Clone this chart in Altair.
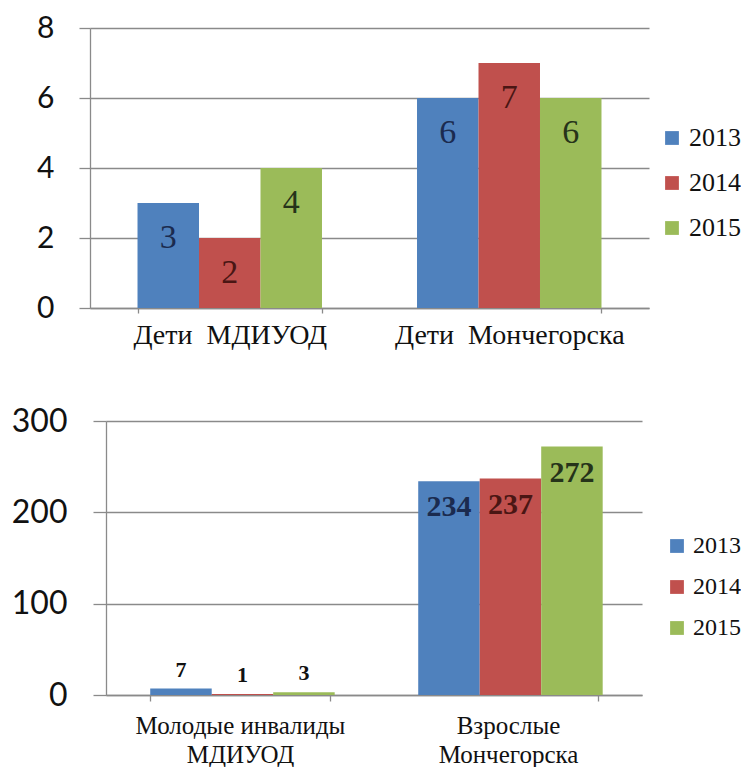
import altair as alt
import pandas as pd

years = ["2013", "2014", "2015"]
bar_colors = ["#4F81BD", "#C0504D", "#9BBB59"]
label_colors = ["#1B2B4F", "#4A1614", "#26331A"]

top_categories = ["Дети\u00a0 МДИУОД", "Дети\u00a0 Мончегорска"]
top_2013 = [3, 6]
top_2014 = [2, 7]
top_2015 = [4, 6]
top_ticks = [0, 2, 4, 6, 8]

bottom_categories = ["Молодые инвалиды\nМДИУОД", "Взрослые\nМончегорска"]
bottom_2013 = [7, 234]
bottom_2014 = [1, 237]
bottom_2015 = [3, 272]
bottom_ticks = [0, 100, 200, 300]


def long_table(cats, series):
    rows = []
    for year, vals in zip(years, series):
        for c, v in zip(cats, vals):
            rows.append({"category": c, "year": year, "value": v})
    return pd.DataFrame(rows)


top_df = long_table(top_categories, [top_2013, top_2014, top_2015])
bottom_df = long_table(bottom_categories, [bottom_2013, bottom_2014, bottom_2015])

GRAY = "#8a8a8a"
SERIF = "Liberation Serif"


def y_axis(ticks, size, pad, tick, extent, offset=0):
    kw = dict(values=ticks, title=None, grid=True, gridColor=GRAY, gridWidth=1.3,
              domainColor=GRAY, domainWidth=1.3, tickColor=GRAY, tickWidth=1.3,
              tickSize=tick, labelFont="Lato", labelFontSize=size, labelColor="#111",
              labelPadding=pad, minExtent=extent, maxExtent=extent)
    if offset:
        kw["offset"] = offset
    return alt.Axis(**kw)


def x_axis(size, pad, tick, expr=None, line_height=None):
    kw = dict(title=None, labelAngle=0, tickBand="extent", tickSize=tick, tickColor=GRAY,
              tickWidth=1.3, domainColor=GRAY, domainWidth=1.3, labelFont=SERIF,
              labelFontSize=size, labelColor="#111", labelPadding=pad, grid=False,
              labelLimit=0)
    if expr:
        kw["labelExpr"] = expr
    if line_height:
        kw["labelLineHeight"] = line_height
    return alt.Axis(**kw)


def legend(lx, ly, row_pad, size):
    return alt.Legend(title=None, orient="none", legendX=lx, legendY=ly, symbolType="square",
                      symbolSize=190, symbolStrokeWidth=0, labelFont=SERIF, labelFontSize=size,
                      labelColor="#111", rowPadding=row_pad, labelOffset=4, padding=0)


# ---- top panel ----
top_base = alt.Chart(top_df).encode(
    x=alt.X("category:N", sort=top_categories,
            scale=alt.Scale(paddingInner=0.34, paddingOuter=0.17),
            axis=x_axis(28, 8, 5)),
    xOffset=alt.XOffset("year:N", sort=years, scale=alt.Scale(paddingInner=0, paddingOuter=0)),
    y=alt.Y("value:Q", scale=alt.Scale(domain=[0, 8], nice=False),
            axis=y_axis(top_ticks, 30, 25, 11, 75)),
)
top_bars = top_base.mark_bar().encode(
    color=alt.Color("year:N", sort=years, scale=alt.Scale(domain=years, range=bar_colors),
                    legend=legend(569, 97, 19, 26)))
top_text = top_base.mark_text(font=SERIF, fontSize=34, baseline="middle", dy=35).encode(
    text="value:Q",
    color=alt.Color("year:N", scale=alt.Scale(domain=years, range=label_colors), legend=None))
top = alt.layer(top_bars, top_text).resolve_scale(color="independent").properties(
    width=559, height=280)

# ---- bottom panel ----
bottom_base = alt.Chart(bottom_df).encode(
    x=alt.X("category:N", sort=bottom_categories,
            scale=alt.Scale(range=[16, 552], paddingInner=0.33, paddingOuter=0.165),
            axis=x_axis(25, 12, 6, "split(datum.label, '\\n')", 29)),
    xOffset=alt.XOffset("year:N", sort=years, scale=alt.Scale(paddingInner=0, paddingOuter=0)),
    y=alt.Y("value:Q", scale=alt.Scale(domain=[0, 300], nice=False),
            axis=y_axis(bottom_ticks, 32, 26, 13, 91, offset=-16)),
)
bottom_bars = bottom_base.mark_bar().encode(
    color=alt.Color("year:N", sort=years, scale=alt.Scale(domain=years, range=bar_colors),
                    legend=legend(575, 113, 17, 24)))
bottom_big = bottom_base.transform_filter("datum.value >= 100").mark_text(
    font=SERIF, fontSize=30, fontWeight="bold", baseline="middle", dy=26).encode(
    text="value:Q",
    color=alt.Color("year:N", scale=alt.Scale(domain=years, range=label_colors), legend=None))
bottom_small = bottom_base.transform_filter("datum.value < 100").mark_text(
    font=SERIF, fontSize=22, fontWeight="bold", baseline="middle", dy=-19, color="#111").encode(
    text="value:Q")
bottom = alt.layer(bottom_bars, bottom_big, bottom_small).resolve_scale(
    color="independent").properties(width=552, height=274)

chart = alt.vconcat(top, bottom, spacing=56).resolve_scale(
    color="independent").resolve_legend(color="independent").configure_view(
    stroke=None).properties(
    padding={"left": 3, "top": 5, "right": 0, "bottom": 0}, background="white")

chart.save("out.html", embed_options={"renderer": "svg", "actions": False})
